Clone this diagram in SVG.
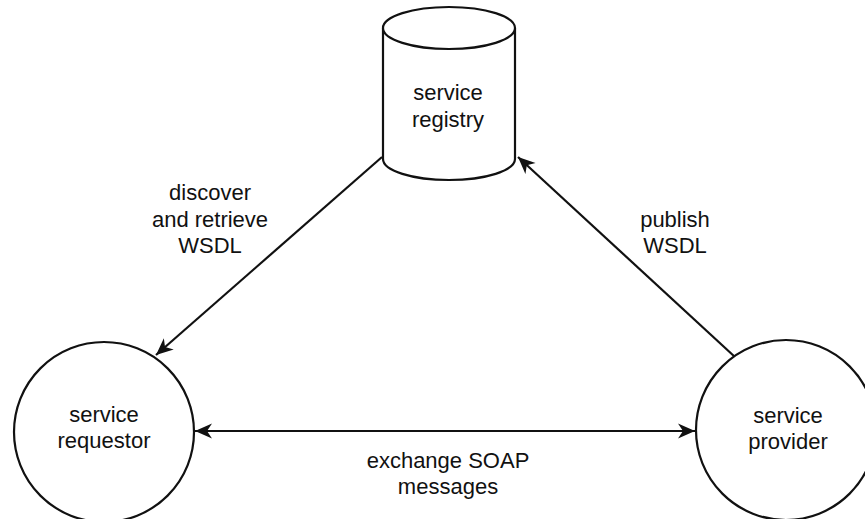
<svg xmlns="http://www.w3.org/2000/svg" width="865" height="519" viewBox="0 0 865 519">
  <style>
    .shape { fill: #ffffff; stroke: #111111; stroke-width: 2.2; }
    .edge { fill: none; stroke: #111111; stroke-width: 2.2; }
    text { font-family: "Liberation Sans", Arial, sans-serif; font-size: 22px; fill: #111111; text-anchor: middle; }
  </style>
  <defs>
    <marker id="arrow" viewBox="-18 -9 20 18" refX="0" refY="0" markerWidth="20" markerHeight="18" markerUnits="userSpaceOnUse" orient="auto-start-reverse">
      <path d="M0,0 L-17,-7.5 L-12,0 L-17,7.5 Z" fill="#111111"/>
    </marker>
  </defs>
  <rect width="865" height="519" fill="#ffffff"/>

  <g id="edges">
    <line class="edge" x1="382" y1="157" x2="156" y2="355" marker-end="url(#arrow)"/>
    <line class="edge" x1="735" y1="357" x2="518" y2="157" marker-end="url(#arrow)"/>
    <line class="edge" x1="195" y1="431" x2="695" y2="431" marker-start="url(#arrow)" marker-end="url(#arrow)"/>
    <text x="210" y="200">discover</text>
    <text x="210" y="227">and retrieve</text>
    <text x="210" y="253">WSDL</text>
    <text x="675" y="227">publish</text>
    <text x="675" y="253">WSDL</text>
    <text x="448" y="468">exchange SOAP</text>
    <text x="448" y="494">messages</text>
  </g>

  <g id="service-registry">
    <path class="shape" d="M383,28 L383,159 A66,21 0 0 0 515,159 L515,28 A66,21 0 0 0 383,28 Z"/>
    <path class="shape" d="M383,28 A66,21 0 0 0 515,28" fill="none"/>
    <text x="448" y="100">service</text>
    <text x="448" y="127">registry</text>
  </g>

  <g id="service-requestor">
    <circle class="shape" cx="104" cy="432" r="90"/>
    <text x="104" y="422">service</text>
    <text x="104" y="448">requestor</text>
  </g>

  <g id="service-provider">
    <circle class="shape" cx="786" cy="430" r="90"/>
    <text x="788" y="423">service</text>
    <text x="788" y="449">provider</text>
  </g>
</svg>
